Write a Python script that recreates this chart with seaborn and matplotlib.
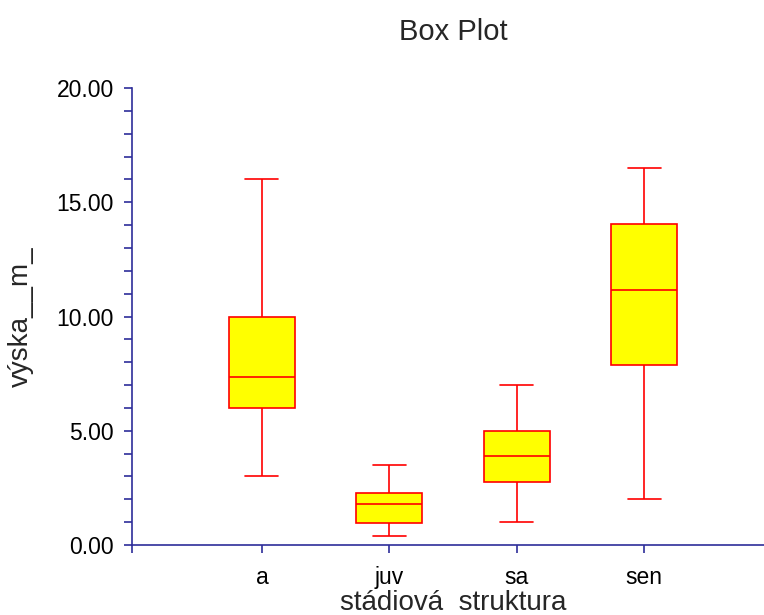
import numpy as np
import pandas as pd
import seaborn as sns
import matplotlib
matplotlib.use("Agg")
import matplotlib.pyplot as plt
from matplotlib.ticker import MultipleLocator

# five-number summaries (min, q1, median, q3, max)
groups = ["a", "juv", "sa", "sen"]
a_vals = [3.0, 6.0, 7.35, 10.0, 16.0]
juv_vals = [0.4, 0.95, 1.78, 2.27, 3.52]
sa_vals = [1.0, 2.76, 3.9, 5.0, 7.0]
sen_vals = [2.0, 7.88, 11.15, 14.07, 16.5]

yticks = [0, 5, 10, 15, 20]
ytick_labels = ["0.00", "5.00", "10.00", "15.00", "20.00"]

df = pd.DataFrame({
    "stadium": np.repeat(groups, 5),
    "vyska": a_vals + juv_vals + sa_vals + sen_vals,
})

sns.set_style("ticks")
plt.rcParams["font.family"] = ["Liberation Sans", "DejaVu Sans"]

navy = "#2e2e9a"

fig = plt.figure(figsize=(7.64, 6.15), dpi=100)
ax = fig.add_axes([132 / 764, 1 - 545 / 615, 642 / 764, (545 - 88) / 615])

sns.boxplot(data=df, x="stadium", y="vyska", order=groups, ax=ax,
            color="#ffff00", linecolor="#ff0000", saturation=1,
            width=0.52, whis=(0, 100), linewidth=1.2, fliersize=0)

ax.set_xlim(-1.02, 4.02)
ax.set_ylim(0, 20)
ax.set_yticks(yticks)
ax.set_yticklabels(ytick_labels)
ax.yaxis.set_minor_locator(MultipleLocator(1))
ax.set_xticks([-1.02, 0, 1, 2, 3])
ax.set_xticklabels(["", "a", "juv", "sa", "sen"])

sns.despine(ax=ax)
for s in ["left", "bottom"]:
    ax.spines[s].set_color(navy)
    ax.spines[s].set_linewidth(1.2)
ax.tick_params(which="both", direction="out", length=6, width=1.2, color=navy,
               labelsize=16.5, labelcolor="black")
ax.tick_params(axis="y", pad=7)
ax.tick_params(axis="x", pad=9)

ax.set_ylabel("výska__m_", fontsize=20, labelpad=16)
ax.set_xlabel("")
fig.text(453 / 764, 1 - 603 / 615, "stádiová  struktura", fontsize=20,
         ha="center", va="center")
fig.text(453 / 764, 1 - 32 / 615, "Box Plot", fontsize=21, ha="center", va="center")

fig.savefig("out.png", dpi=100)
